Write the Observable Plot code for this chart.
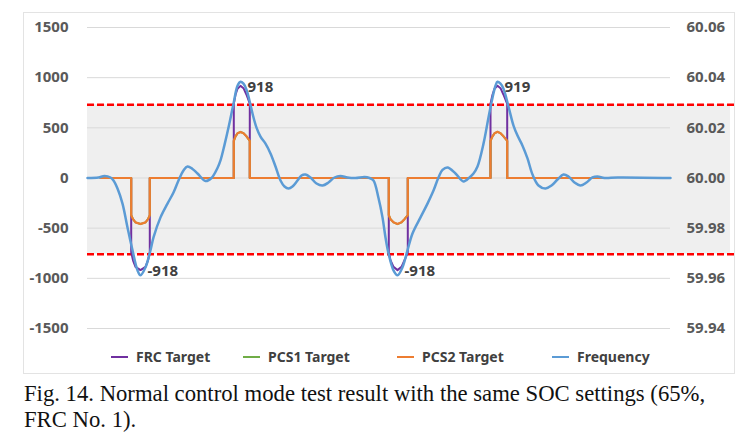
<!DOCTYPE html>
<html>
<head>
<meta charset="utf-8">
<script src="https://cdn.jsdelivr.net/npm/d3@7"></script>
<script src="https://cdn.jsdelivr.net/npm/@observablehq/plot@0.6"></script>
<style>
  html, body { margin: 0; padding: 0; background: #fff; }
  #wrap { position: relative; width: 752px; height: 438px; overflow: hidden; }
  #frame { position: absolute; left: 23px; top: 12px; width: 712px; height: 362px; border: 1px solid #e3e3e3; box-sizing: border-box; pointer-events: none; }
  #chart { position: absolute; left: 0; top: 0; }
  #legend { position: absolute; left: 0; top: 346px; height: 22px; width: 752px; font-family: "Noto Sans", sans-serif; font-weight: bold; font-size: 14px; color: #404040; }
  .item { position: absolute; top: 0; height: 22px; line-height: 22px; white-space: nowrap; }
  .sw { display: inline-block; width: 17px; height: 2px; vertical-align: middle; margin-right: 8px; position: relative; top: -1px; }
  #caption { position: absolute; left: 24px; top: 381px; font-family: "Liberation Serif", serif; font-size: 22.7px; line-height: 26px; color: #111; white-space: nowrap; }
</style>
</head>
<body>
<div id="wrap">
  <div id="chart"></div>
  <div id="frame"></div>
  <div id="legend"></div>
  <div id="caption">Fig. 14. Normal control mode test result with the same SOC settings (65%,<br>FRC No. 1).</div>
</div>
<script>
// ---- data (time index, power in kW, frequency in Hz) ----
const yTicks = [-1500, -1000, -500, 0, 500, 1000, 1500];
const bandHigh = 730;   // upper dashed limit (kW equivalent)
const bandLow = -760;   // lower dashed limit

const targetT = [13, 43.7, 43.7, 45.5, 48, 53, 58, 60.5, 62.3, 62.3,
  146.3, 146.3, 148, 150, 153, 156, 159, 162.3, 162.3,
  301.3, 301.3, 303, 306, 310, 314, 317, 320.3, 320.3,
  403, 403, 405, 407, 410, 413, 416, 419.7, 419.7, 516];
const frcTarget = [0, 0, -740, -820, -885, -918, -885, -820, -740, 0,
  0, 740, 830, 890, 918, 895, 830, 740, 0,
  0, -740, -820, -885, -918, -885, -820, -740, 0,
  0, 740, 830, 890, 919, 895, 830, 740, 0, 0];
const pcs1Target = [0, 0, -370, -410, -442, -459, -442, -410, -370, 0,
  0, 370, 415, 445, 459, 447, 415, 370, 0,
  0, -370, -410, -442, -459, -442, -410, -370, 0,
  0, 370, 415, 445, 460, 447, 415, 370, 0, 0];
const pcs2Target = [0, 0, -370, -410, -442, -459, -442, -410, -370, 0,
  0, 370, 415, 445, 459, 447, 415, 370, 0,
  0, -370, -410, -442, -459, -442, -410, -370, 0,
  0, 370, 415, 445, 460, 447, 415, 370, 0, 0];

const freqT = [0, 11, 17, 23, 26, 30, 35, 40, 45, 50, 53, 58, 63, 66, 73, 80, 86, 91, 96, 100,
  105, 110, 118, 124, 130, 133, 137, 141, 146, 150, 153, 156, 159, 162, 165, 169, 173, 178, 183, 188,
  193, 197, 201, 205, 210, 214, 218, 223, 229, 235, 241, 247, 253, 260, 268, 277, 282, 286, 291, 295,
  298, 301, 306, 310, 315, 320, 325, 333, 340, 346, 351, 355, 360, 368, 376, 382, 386, 390, 396, 401,
  405, 408, 410, 413, 416, 419, 422, 426, 430, 435, 440, 445, 451, 458, 464, 470, 476, 481, 487, 493,
  499, 505, 510, 517, 530, 583];
const freqHz = [60.0000, 60.0002, 60.0008, 60.0002, 59.9990, 59.9958, 59.9898, 59.9803, 59.9712, 59.9632,
  59.9612, 59.9644, 59.9712, 59.9763, 59.9843, 59.9898, 59.9942, 59.9990, 60.0030, 60.0046,
  60.0036, 60.0018, 59.9988, 60.0000, 60.0040, 60.0070, 60.0132, 60.0201, 60.0296, 60.0368,
  60.0384, 60.0376, 60.0352, 60.0308, 60.0257, 60.0201, 60.0165, 60.0137, 60.0098, 60.0046,
  59.9990, 59.9966, 59.9958, 59.9966, 59.9990, 60.0010, 60.0014, 60.0002, 59.9978, 59.9970,
  59.9982, 60.0002, 60.0008, 60.0002, 60.0000, 60.0004, 60.0000, 59.9990, 59.9920, 59.9843,
  59.9763, 59.9700, 59.9632, 59.9612, 59.9644, 59.9712, 59.9779, 59.9843, 59.9898, 59.9950,
  60.0002, 60.0032, 60.0042, 60.0018, 59.9986, 60.0002, 60.0018, 60.0046, 60.0137, 60.0241,
  60.0320, 60.0368, 60.0384, 60.0376, 60.0356, 60.0316, 60.0269, 60.0209, 60.0169, 60.0129,
  60.0078, 60.0014, 59.9970, 59.9958, 59.9970, 59.9994, 60.0014, 60.0006, 59.9982, 59.9970,
  59.9982, 60.0002, 60.0006, 60.0000, 60.0002, 60.0000];

const peakT = [53, 153, 310, 410];
const peakV = [-918, 918, -918, 919];

const seriesNames = ["FRC Target", "PCS1 Target", "PCS2 Target", "Frequency"];
const seriesColors = ["#7030a0", "#70ad47", "#ed7d31", "#5b9bd5"];

// ---- derived tables ----
const hzToKw = hz => (hz - 60) * 25000;
const toRows = (ts, vs) => ts.map((t, i) => ({t, v: vs[i]}));
const frcRows = toRows(targetT, frcTarget);
const pcs1Rows = toRows(targetT, pcs1Target);
const pcs2Rows = toRows(targetT, pcs2Target);
const freqRows = freqT.map((t, i) => ({t, v: hzToKw(freqHz[i])}));
const peakRows = peakT.map((t, i) => ({t, v: peakV[i], label: String(peakV[i])}));

const chart = Plot.plot({
  width: 752,
  height: 340,
  marginLeft: 87,
  marginRight: 82,
  marginTop: 27,
  marginBottom: 12,
  style: {fontFamily: "'Noto Sans', sans-serif", fontSize: "15px", fontWeight: "bold", color: "#595959", background: "transparent", overflow: "visible"},
  x: {domain: [0, 583], axis: null},
  y: {domain: [-1500, 1500], axis: null},
  marks: [
    Plot.rect([{}], {x1: () => 0, x2: () => 643, y1: () => bandLow, y2: () => bandHigh, fill: "#efefef"}),
    Plot.gridY(yTicks, {stroke: "#d9d9d9", strokeOpacity: 1, strokeWidth: 1}),
    Plot.ruleY([bandHigh, bandLow], {x1: 0, x2: 650, stroke: "#ff0000", strokeWidth: 2.5, strokeDasharray: "7,3"}),
    Plot.axisY({anchor: "left", ticks: yTicks, tickSize: 0, tickPadding: 19, label: null, tickFormat: d => String(d), fill: "#595959"}),
    Plot.axisY({anchor: "right", ticks: yTicks, tickSize: 0, tickPadding: 16, label: null, tickFormat: d => (60 + d / 25000).toFixed(2), fill: "#595959"}),
    Plot.line(frcRows, {x: "t", y: "v", stroke: seriesColors[0], strokeWidth: 2}),
    Plot.line(pcs1Rows, {x: "t", y: "v", stroke: seriesColors[1], strokeWidth: 2}),
    Plot.line(pcs2Rows, {x: "t", y: "v", stroke: seriesColors[2], strokeWidth: 2.2}),
    Plot.line(freqRows, {x: "t", y: "v", stroke: seriesColors[3], strokeWidth: 2.5, curve: "catmull-rom"}),
    Plot.text(peakRows, {x: "t", y: "v", text: "label", textAnchor: "start", dx: 7, dy: 1, fill: "#404040", fontWeight: "bold", fontSize: 15})
  ]
});
document.getElementById("chart").appendChild(chart);

// legend
const legendX = [111, 243, 397, 552];
const legend = document.getElementById("legend");
seriesNames.forEach((name, i) => {
  const item = document.createElement("div");
  item.className = "item";
  item.style.left = legendX[i] + "px";
  const sw = document.createElement("span");
  sw.className = "sw";
  sw.style.background = seriesColors[i];
  item.appendChild(sw);
  item.appendChild(document.createTextNode(name));
  legend.appendChild(item);
});
</script>
</body>
</html>
